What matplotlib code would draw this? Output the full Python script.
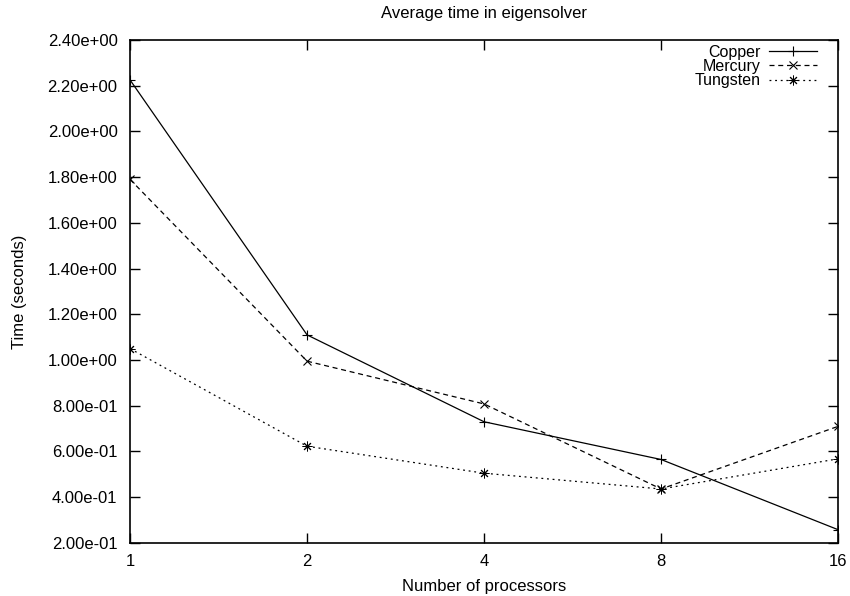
import matplotlib.pyplot as plt
from matplotlib.ticker import FixedLocator, FixedFormatter, FormatStrFormatter

plt.rcParams['font.family'] = ['Liberation Sans', 'DejaVu Sans']

# Data
processors = [1, 2, 4, 8, 16]
copper = [2.225, 1.11, 0.73, 0.565, 0.258]
mercury = [1.79, 0.995, 0.808, 0.436, 0.71]
tungsten = [1.05, 0.623, 0.505, 0.436, 0.568]

fig = plt.figure(figsize=(8.5, 5.96), dpi=100)
ax = fig.add_axes([0.153, 0.089, 0.833, 0.844])

ax.plot(processors, copper, color='black', lw=0.9, marker='+', ms=7, mew=0.8,
        label='Copper')
ax.plot(processors, mercury, color='black', lw=0.9, ls=(0, (4, 3)), marker='x',
        ms=5.5, mew=0.8, label='Mercury')
ax.plot(processors, tungsten, color='black', lw=0.9, ls=(0, (1.5, 3)),
        marker=(8, 2, 0), ms=7, mew=0.7, label='Tungsten')

ax.set_xscale('log', base=2)
ax.set_xlim(1, 16)
ax.set_ylim(0.2, 2.4)
ax.xaxis.set_major_locator(FixedLocator(processors))
ax.xaxis.set_major_formatter(FixedFormatter([str(p) for p in processors]))
ax.xaxis.set_minor_locator(FixedLocator([]))
ax.set_yticks([0.2 + 0.2 * i for i in range(12)])
ax.yaxis.set_major_formatter(FormatStrFormatter('%.2e'))

ax.tick_params(direction='in', length=7, width=1, top=True, right=True,
               labelsize=12)
ax.tick_params(axis='x', pad=8)
ax.tick_params(axis='y', pad=9)
for s in ax.spines.values():
    s.set_linewidth(1.2)

ax.set_title('Average time in eigensolver', fontsize=12, pad=16)
ax.set_xlabel('Number of processors', fontsize=12)
ax.set_ylabel('Time (seconds)', fontsize=12)
ax.xaxis.set_label_coords(0.5, -0.071)
ax.yaxis.set_label_coords(-0.145, 0.5)

ax.legend(loc='upper right', bbox_to_anchor=(0.961, 0.925),
          bbox_transform=fig.transFigure, frameon=False, markerfirst=False,
          fontsize=11.5, handlelength=3.0, handletextpad=0.55,
          labelspacing=-0.05, borderaxespad=0, borderpad=0)

fig.savefig('out.png', dpi=100)
